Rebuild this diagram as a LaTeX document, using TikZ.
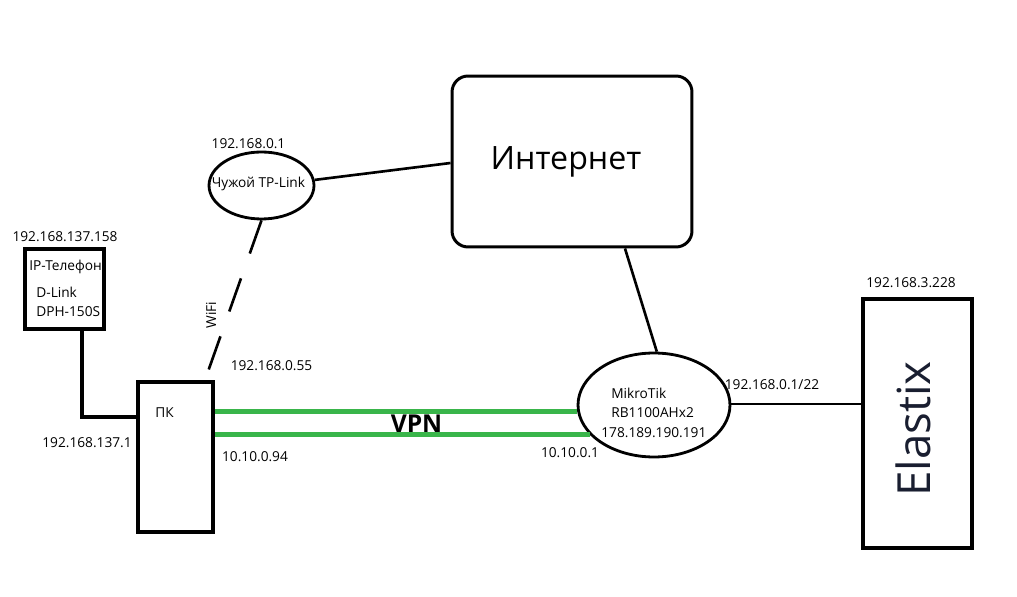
\documentclass[tikz,border=0pt]{standalone}
\usepackage{fontspec}
\setmainfont{Open Sans}
\usepackage{xcolor}
\usetikzlibrary{positioning,shapes.geometric}
\definecolor{vpngreen}{RGB}{57,181,74}
\definecolor{elastixink}{RGB}{25,30,48}

\begin{document}
\begin{tikzpicture}[x=0.02cm, y=-0.02cm, font=\fontsize{7.8}{9.4}\selectfont,
    lbl/.style={inner sep=0pt},
    conn/.style={line width=1.5pt},
    vpnline/.style={line width=2.8pt, vpngreen}]
    \useasboundingbox (0,0) rectangle (1017,597);

    % Nodes
    \node[draw, rectangle, rounded corners=0.32cm, line width=1.7pt, minimum width=4.8cm, minimum height=3.42cm] (inet) at (572,161.5) {};
    \node[draw, ellipse, line width=1.6pt, minimum width=2.1cm, minimum height=1.34cm, inner sep=0pt] (tplink) at (261.5,185.5) {};
    \node[draw, rectangle, line width=2.3pt, minimum width=1.58cm, minimum height=1.6cm] (phone) at (64.5,289) {};
    \node[draw, rectangle, line width=2.3pt, minimum width=1.5cm, minimum height=3cm] (pc) at (175.5,457) {};
    \node[draw, ellipse, line width=1.6pt, minimum width=3.04cm, minimum height=2.08cm, inner sep=0pt] (mikrotik) at (654,405) {};
    \node[draw, rectangle, line width=1.9pt, minimum width=2.18cm, minimum height=4.98cm] (elastix) at (917.5,423.5) {};

    % Texts in the boxes
    \node[lbl, font=\fontsize{18.3}{22}\selectfont] (inetname) at (566,162) {Интернет};
    \node[lbl] (tplinkname) at (258.5,184) {Чужой TP-Link};
    \node[lbl, anchor=west] (phonename) at (29,267) {IP-Телефон};
    \node[lbl, anchor=west] (phonemodel) at (36,292) {D-Link};
    \node[lbl, below=0.17cm of phonemodel.south west, anchor=north west] (phonetype) {DPH-150S};
    \node[lbl] (pcname) at (164.5,413) {ПК};
    \node[lbl, anchor=west] (mtname) at (611,393) {MikroTik};
    \node[lbl, anchor=west] (mtmodel) at (611,413) {RB1100AHx2};
    \node[lbl, anchor=west] (mtwan) at (601,433) {178.189.190.191};
    \node[lbl, rotate=90, font=\fontsize{26}{30}\selectfont, text=elastixink] (elastixname) at (913,429) {Elastix};

    % Addresses
    \node[lbl] (phoneip) at (65,237) {192.168.137.158};
    \node[lbl] (pclanip) at (87,443) {192.168.137.1};
    \node[lbl] (pcwifiip) at (271.5,366) {192.168.0.55};
    \node[lbl] (pcvpnip) at (255,457) {10.10.0.94};
    \node[lbl] (tplinkip) at (248.5,144) {192.168.0.1};
    \node[lbl] (mtvpnip) at (570,453) {10.10.0.1};
    \node[lbl] (mtlanip) at (772,385) {192.168.0.1/22};
    \node[lbl, above=0.18cm of elastix.north, xshift=-0.13cm] (elastixip) {192.168.3.228};
    \node[lbl, rotate=90] (wifi) at (211,315) {WiFi};

    % Links
    \draw[conn] (tplink.6) -- (inet.west |- 0,163);
    \draw[conn] ([xshift=1.06cm]inet.south) -- (mikrotik.87);
    \draw[conn] (mikrotik.east |- 0,404) -- (elastix.west |- 0,404);
    \draw[line width=2.8pt] ([xshift=0.35cm]phone.south) |- (pc.west |- 0,417);
    \draw[conn, dash pattern=on 20pt off 15pt] (tplink.south) -- ([xshift=-0.2cm]pc.north east);

    % VPN
    \draw[vpnline] (pc.east |- mikrotik.185.5) -- (mikrotik.185.5);
    \draw[vpnline] (pc.east |- mikrotik.205) -- (mikrotik.205);
    \node[lbl, font=\fontsize{14}{16}\bfseries] (vpn) at (416.5,424) {VPN};
\end{tikzpicture}
\end{document}
